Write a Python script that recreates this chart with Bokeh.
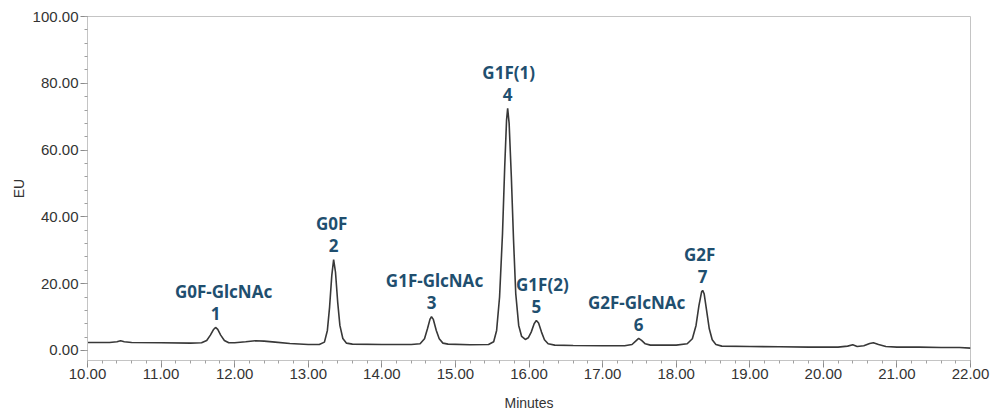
from bokeh.plotting import figure
from bokeh.models import ColumnDataSource, SingleIntervalTicker, NumeralTickFormatter, Range1d
from bokeh.core.properties import value
from bokeh.embed import file_html
from bokeh.resources import INLINE

# Fluorescence trace (EU) against retention time (minutes)
time_min = [
    10.00, 10.30, 10.40, 10.45, 10.50, 10.60, 11.00, 11.40, 11.55, 11.62,
    11.67, 11.71, 11.74, 11.77, 11.81, 11.86, 11.92, 12.00, 12.15, 12.28,
    12.40, 12.55, 12.75, 13.00, 13.15, 13.22, 13.26, 13.29, 13.32, 13.345,
    13.37, 13.40, 13.43, 13.47, 13.52, 13.60, 14.00, 14.40, 14.52, 14.58,
    14.62, 14.655, 14.675, 14.70, 14.74, 14.78, 14.83, 14.90, 15.20, 15.45,
    15.52, 15.56, 15.60, 15.64, 15.67, 15.695, 15.71, 15.73, 15.76, 15.79,
    15.82, 15.86, 15.90, 15.95, 15.99, 16.03, 16.07, 16.10, 16.13, 16.17,
    16.21, 16.26, 16.35, 16.60, 17.00, 17.30, 17.40, 17.45, 17.49, 17.53,
    17.58, 17.65, 18.00, 18.15, 18.22, 18.27, 18.31, 18.345, 18.36, 18.38,
    18.41, 18.45, 18.49, 18.54, 18.62, 19.00, 19.40, 19.80, 20.20, 20.33,
    20.40, 20.46, 20.55, 20.63, 20.68, 20.75, 20.85, 21.00, 21.30, 21.60,
    21.85, 22.00,
]
signal_eu = [
    2.4, 2.4, 2.6, 2.9, 2.6, 2.4, 2.3, 2.2, 2.3, 3.0,
    4.6, 6.2, 6.9, 6.3, 4.6, 3.0, 2.3, 2.3, 2.6, 2.9,
    2.8, 2.5, 2.1, 1.8, 1.8, 2.5, 6.0, 13.0, 22.5, 27.2,
    23.5, 14.5, 7.5, 3.6, 2.2, 1.9, 1.8, 1.8, 2.0, 3.5,
    6.5, 9.4, 10.1, 9.3, 6.0, 3.5, 2.2, 1.9, 1.7, 1.8,
    2.6, 6.0, 16.0, 35.0, 55.0, 69.0, 72.5, 68.0, 52.0, 33.0,
    17.0, 7.5, 4.2, 3.3, 3.8, 5.5, 8.0, 9.0, 8.2, 5.5,
    3.2, 2.0, 1.6, 1.5, 1.4, 1.4, 1.8, 2.8, 3.6, 3.0,
    2.0, 1.6, 1.6, 2.0, 3.5, 7.5, 13.5, 17.5, 18.0, 17.0,
    12.5, 6.5, 3.2, 1.8, 1.3, 1.2, 1.1, 1.0, 1.0, 1.3,
    1.7, 1.2, 1.4, 2.1, 2.3, 1.8, 1.2, 1.0, 1.0, 0.9,
    0.9, 0.7,
]

# Identified glycan peaks
peak_names = ["G0F-GlcNAc", "G0F", "G1F-GlcNAc", "G1F(1)", "G1F(2)", "G2F-GlcNAc", "G2F"]
peak_numbers = ["1", "2", "3", "4", "5", "6", "7"]
peak_time = [11.74, 13.345, 14.675, 15.71, 16.10, 17.49, 18.36]
peak_height = [6.9, 27.2, 10.1, 72.5, 9.0, 3.6, 18.0]

# small horizontal nudges (px) for the name line of each label
name_shift_px = [8, -2, 3, 1, 6, -2, -3]

AXIS_FONT = "Liberation Sans"
LABEL_FONT = "Noto Sans"
LABEL_COLOR = "#1f4f6f"
FRAME_COLOR = "#c4c4c4"

p = figure(
    width=995, height=415,
    x_range=Range1d(10.0, 22.0), y_range=Range1d(-3.0, 100.0),
    output_backend="svg", toolbar_location=None,
    min_border_left=87, min_border_right=25, min_border_top=16, min_border_bottom=55,
    background_fill_color="white", border_fill_color="white",
)
p.outline_line_color = FRAME_COLOR
p.outline_line_width = 1
p.xgrid.visible = False
p.ygrid.visible = False

p.line(time_min, signal_eu, line_color="#383838", line_width=1.6)

src = ColumnDataSource(dict(
    t=peak_time, h=peak_height, name=peak_names, num=peak_numbers, dx=name_shift_px,
))
p.text(x="t", y="h", text="num", source=src, y_offset=-14,
       text_align="center", text_baseline="middle",
       text_font=value(LABEL_FONT), text_font_style="bold",
       text_font_size="17px", text_color=LABEL_COLOR)
p.text(x="t", y="h", text="name", source=src, y_offset=-36, x_offset="dx",
       text_align="center", text_baseline="middle",
       text_font=value(LABEL_FONT), text_font_style="bold",
       text_font_size="17px", text_color=LABEL_COLOR)

# axes
p.xaxis.ticker = SingleIntervalTicker(interval=1, num_minor_ticks=5)
p.yaxis.ticker = SingleIntervalTicker(interval=20, num_minor_ticks=5)
p.xaxis.formatter = NumeralTickFormatter(format="0.00")
p.yaxis.formatter = NumeralTickFormatter(format="0.00")
p.xaxis.axis_label = "Minutes"
p.yaxis.axis_label = "EU"

for ax in (p.xaxis[0], p.yaxis[0]):
    ax.axis_line_color = FRAME_COLOR
    ax.major_tick_line_color = "#8a8a8a"
    ax.minor_tick_line_color = "#a0a0a0"
    ax.major_tick_in = 0
    ax.minor_tick_in = 0
    ax.major_tick_out = 7
    ax.minor_tick_out = 3
    ax.major_label_text_font = AXIS_FONT
    ax.major_label_text_font_size = "15px"
    ax.major_label_text_color = "#333333"
    ax.axis_label_text_font = AXIS_FONT
    ax.axis_label_text_font_size = "14px"
    ax.axis_label_text_font_style = "normal"
    ax.axis_label_text_color = "#333333"

p.xaxis.major_label_standoff = 1
p.yaxis.major_label_standoff = 2
p.xaxis.axis_label_standoff = 13
p.yaxis.axis_label_standoff = 3

open("out.html", "w").write(file_html(p, INLINE))
